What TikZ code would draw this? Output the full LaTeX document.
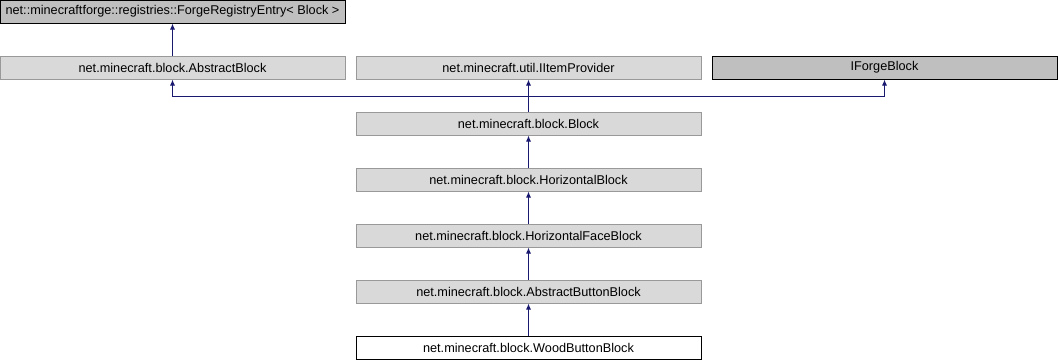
\documentclass[tikz,border=0pt]{standalone}
\usepackage{fontspec}
\setmainfont{Liberation Sans}
\usetikzlibrary{arrows.meta}
\definecolor{edgeblue}{RGB}{25,25,112}
\definecolor{boxgray}{RGB}{217,217,217}
\definecolor{extgray}{RGB}{191,191,191}
\definecolor{bordergray}{RGB}{153,153,153}
\begin{document}
\begin{tikzpicture}[x=1pt,y=-1pt,
  cls/.style={draw=bordergray,fill=boxgray,line width=1pt,minimum width=345pt,minimum height=23pt,
    inner sep=0pt,font=\fontsize{12.7}{15}\selectfont},
  extcls/.style={cls,draw=black,fill=extgray},
  curcls/.style={cls,draw=black,fill=white},
  inherit/.style={draw=edgeblue,line width=1pt,-{Latex[length=6pt,width=5pt]}}]
\useasboundingbox (0,0) rectangle (1058,360);
% class boxes, one row every 56 units
\node[extcls] (fre) at (172.5,11.5) {net::minecraftforge::registries::ForgeRegistryEntry< Block >};
\node[cls] (ab) at (172.5,67.5) {net.minecraft.block.AbstractBlock};
\node[cls] (ip) at (528.5,67.5) {net.minecraft.util.IItemProvider};
\node[extcls] (ifb) at (884.5,67.5) {IForgeBlock};
\node[cls] (blk) at (528.5,123.5) {net.minecraft.block.Block};
\node[cls] (hb) at (528.5,179.5) {net.minecraft.block.HorizontalBlock};
\node[cls] (hfb) at (528.5,235.5) {net.minecraft.block.HorizontalFaceBlock};
\node[cls] (abb) at (528.5,291.5) {net.minecraft.block.AbstractButtonBlock};
\node[curcls] (wbb) at (528.5,347.5) {net.minecraft.block.WoodButtonBlock};
% inheritance edges
\draw[inherit] (ab.north) -- (fre.south);
\coordinate (bus) at (528.5,96.5);
\draw[inherit] (blk.north) -- (bus) -| (ab.south);
\draw[inherit] (bus) -- (ip.south);
\draw[inherit] (bus) -| (ifb.south);
\draw[inherit] (hb.north) -- (blk.south);
\draw[inherit] (hfb.north) -- (hb.south);
\draw[inherit] (abb.north) -- (hfb.south);
\draw[inherit] (wbb.north) -- (abb.south);
\end{tikzpicture}
\end{document}
